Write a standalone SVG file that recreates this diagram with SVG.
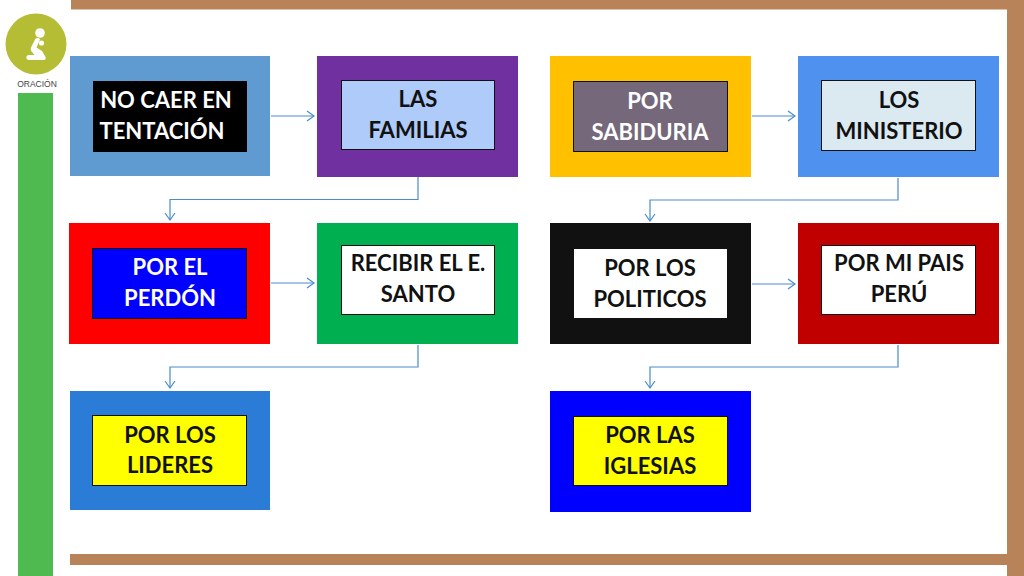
<svg xmlns="http://www.w3.org/2000/svg" width="1024" height="576" viewBox="0 0 1024 576">
<style>
.t{font-family:Lato,"Open Sans","Liberation Sans",sans-serif;font-weight:700;font-size:22px;text-anchor:middle}
.i{stroke:#111;stroke-width:1}
.c{fill:none;stroke:#4a8ccb;stroke-width:1.2}
.f{fill:#b9835a}
</style>
<defs><marker id="a" markerUnits="userSpaceOnUse" markerWidth="10" markerHeight="12" refX="8.5" refY="6" orient="auto"><path d="M1.5 1L8.5 6L1.5 11" fill="none" stroke="#4a8ccb" stroke-width="1.2"/></marker></defs>
<rect width="1024" height="576" fill="#fff"/>
<g id="frame"><rect class="f" x="71" y="0" width="953" height="9.500"/><rect class="f" x="1007" y="0" width="17" height="576"/><rect class="f" x="70" y="554" width="937" height="11"/></g>
<g id="sidebar"><rect x="18" y="93" width="35" height="483" fill="#4fba50"/>
<circle cx="36" cy="44" r="30.500" fill="#b5bd35"/>
<g fill="#fff"><circle cx="40" cy="33" r="4.800"/><path d="M35.500 38.500c2.500-1.200 4-.5 4.500 1l-3.500 8 5.500 3.500 3.500 6c.6 1.500 0 3-1.500 3H29c-3.500 0-3.500-5 0-5h5.500l-3-3.500c-1-1.500-1-3 0-5z"/><circle cx="41.500" cy="43" r="2.600"/></g>
<text x="37" y="86.500" font-family="'Liberation Sans',sans-serif" font-size="8.500" fill="#444" text-anchor="middle">ORACIÓN</text></g>
<g id="connectors">
<path class="c" marker-end="url(#a)" d="M271 116H314"/>
<path class="c" marker-end="url(#a)" d="M418 177V199.500H170V220"/>
<path class="c" marker-end="url(#a)" d="M271 283H314"/>
<path class="c" marker-end="url(#a)" d="M418 345V367H170V388"/>
<path class="c" marker-end="url(#a)" d="M752 116H795"/>
<path class="c" marker-end="url(#a)" d="M898 178V200H650V221"/>
<path class="c" marker-end="url(#a)" d="M752 284H795"/>
<path class="c" marker-end="url(#a)" d="M898 345V367H650V388"/>
</g>
<g id="n1"><rect x="70" y="56" width="200" height="120" fill="#5f9bd0"/><rect x="93" y="81" width="154" height="71" fill="#000"/><text class="t" fill="#fff" x="166" y="108">NO CAER EN</text><text class="t" fill="#fff" x="162" y="139">TENTACIÓN</text></g>
<g id="n2"><rect x="317" y="56" width="201" height="121" fill="#7030a0"/><rect class="i" x="341.500" y="80.500" width="153" height="69" fill="#aecbfa"/><text class="t" fill="#111" x="418" y="107">LAS</text><text class="t" fill="#111" x="418" y="138">FAMILIAS</text></g>
<g id="n3"><rect x="550" y="56" width="201" height="121" fill="#ffc000"/><rect class="i" x="573.500" y="81.500" width="154" height="70" fill="#75687a"/><text class="t" fill="#fff" x="650" y="109">POR</text><text class="t" fill="#fff" x="650" y="140">SABIDURIA</text></g>
<g id="n4"><rect x="798" y="56" width="201" height="121" fill="#4f91ee"/><rect class="i" x="821.500" y="80.500" width="154" height="70" fill="#dbe9f1"/><text class="t" fill="#111" x="899" y="108">LOS</text><text class="t" fill="#111" x="899" y="139">MINISTERIO</text></g>
<g id="n5"><rect x="69" y="223" width="201" height="121" fill="#ff0000"/><rect class="i" x="92.500" y="248.500" width="154" height="70" fill="#0000ff"/><text class="t" fill="#fff" x="170" y="275">POR EL</text><text class="t" fill="#fff" x="170" y="306">PERDÓN</text></g>
<g id="n6"><rect x="317" y="223" width="201" height="121" fill="#00b050"/><rect class="i" x="341.500" y="245.500" width="153" height="69" fill="#fff"/><text class="t" fill="#111" x="418" y="271">RECIBIR EL E.</text><text class="t" fill="#111" x="418" y="302">SANTO</text></g>
<g id="n7"><rect x="550" y="223" width="201" height="121" fill="#111"/><rect x="574" y="249" width="153" height="69" fill="#fff"/><text class="t" fill="#111" x="650" y="276">POR LOS</text><text class="t" fill="#111" x="650" y="307">POLITICOS</text></g>
<g id="n8"><rect x="798" y="223" width="201" height="121" fill="#c00000"/><rect class="i" x="821.500" y="245.500" width="154" height="69" fill="#fff"/><text class="t" fill="#111" x="899" y="271">POR MI PAIS</text><text class="t" fill="#111" x="899" y="302">PERÚ</text></g>
<g id="n9"><rect x="70" y="391" width="200" height="119" fill="#2a7cd6"/><rect class="i" x="92.500" y="415.500" width="154" height="70" fill="#ffff00"/><text class="t" fill="#111" x="170" y="443">POR LOS</text><text class="t" fill="#111" x="170" y="473">LIDERES</text></g>
<g id="n10"><rect x="550" y="391" width="201" height="121" fill="#0000ff"/><rect class="i" x="573.500" y="416.500" width="154" height="69" fill="#ffff00"/><text class="t" fill="#111" x="650" y="443">POR LAS</text><text class="t" fill="#111" x="650" y="474">IGLESIAS</text></g>
</svg>
